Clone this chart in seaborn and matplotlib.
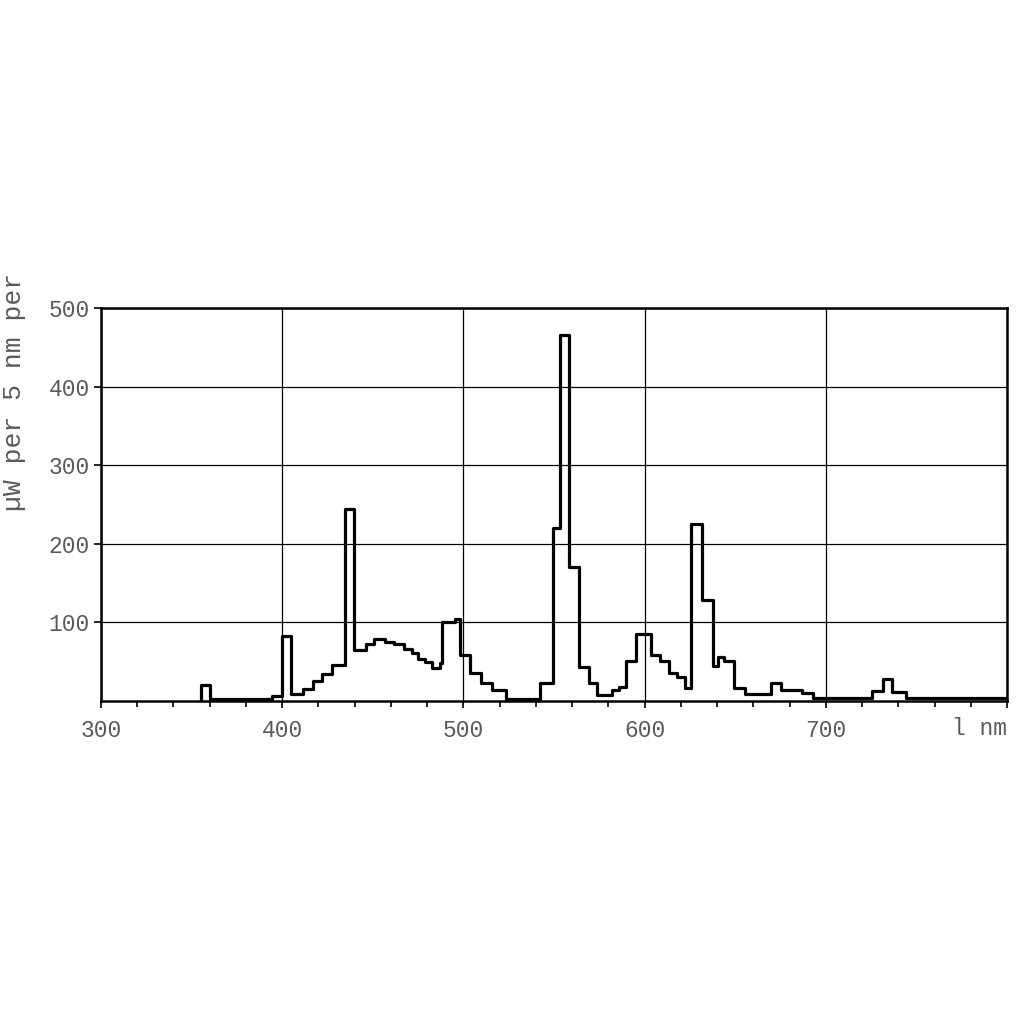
import pandas as pd
import matplotlib.pyplot as plt
import seaborn as sns

# left edge of each step (nm) and its value (uW per 5 nm)
edges = [355, 360, 394.5, 400, 405, 411.5, 417, 422, 427.5, 434.5,
         439.5, 446.5, 450.5, 457, 461.5, 467, 471.5, 475, 479, 482.5,
         487, 488, 495.5, 498, 503.5, 509.5, 516, 523.5, 542, 549.5,
         553.5, 558.5, 564, 569.5, 573.5, 582, 586, 590, 595.5, 603.5,
         608.5, 613.5, 618, 622.5, 625.5, 631.5, 637.5, 640.5, 644, 649.5,
         655.5, 670, 675.5, 687, 693, 725.5, 731.5, 736.5, 744]
values = [20, 3, 6, 83, 8.5, 15, 25, 34, 46, 244,
          65, 72.5, 79, 75.5, 72.5, 66, 61, 54, 49, 42,
          48, 100, 104, 58, 36, 23, 14, 3, 23, 220,
          466, 171, 43, 22.5, 8, 13.5, 18, 51, 85, 59,
          51, 36, 31, 17, 225, 129, 45, 56, 51, 16,
          9, 22.5, 14, 10, 3.4, 13, 27.5, 12, 3.4]
x_end = 800

x_ticks = [300, 400, 500, 600, 700, 800]
x_labels = ["300", "400", "500", "600", "700", ""]
y_ticks = [100, 200, 300, 400, 500]

# build the step outline: start from zero, close at the right edge
x = [edges[0]] + edges + [x_end]
y = [0] + values + [values[-1]]
df = pd.DataFrame({"nm": x, "uW": y})

sns.set_theme(style="white")
plt.rcParams["font.family"] = ["Liberation Mono", "DejaVu Sans Mono"]
txt_color = "#5a5a5a"

fig = plt.figure(figsize=(10.17, 10.17), dpi=100)
ax = fig.add_axes([101 / 1017, 316 / 1017, 906 / 1017, 393 / 1017])

sns.lineplot(data=df, x="nm", y="uW", sort=False, estimator=None,
             drawstyle="steps-post", color="black", linewidth=2.3, ax=ax)

ax.set_xlim(300, 800)
ax.set_ylim(0, 500)
ax.set_xticks(x_ticks)
ax.set_xticklabels(x_labels)
ax.set_xticks(range(300, 801, 20), minor=True)
ax.set_yticks(y_ticks)
ax.set_yticklabels([str(v) for v in y_ticks])
ax.grid(True, color="black", linewidth=0.9)
ax.set_axisbelow(True)

for s in ax.spines.values():
    s.set_color("black")
    s.set_linewidth(1.8)

ax.tick_params(axis="both", which="major", direction="out", length=5, width=1.2,
               color="black", labelsize=16.5, labelcolor=txt_color,
               bottom=True, left=True)
ax.tick_params(axis="y", which="major", pad=3)
ax.tick_params(axis="x", which="major", pad=8)
ax.tick_params(axis="x", which="minor", direction="out", length=4, width=1.2,
               color="black", bottom=True)
ax.set_xlabel("")
ax.set_ylabel("")

ax.text(800, -20, "l nm", ha="right", va="top", fontsize=16.5, color=txt_color)
fig.text(14 / 1017, 1 - 392 / 1017, "µW per 5 nm per", rotation=90,
         ha="center", va="center", fontsize=19, color=txt_color)

fig.savefig("out.png", dpi=100)
